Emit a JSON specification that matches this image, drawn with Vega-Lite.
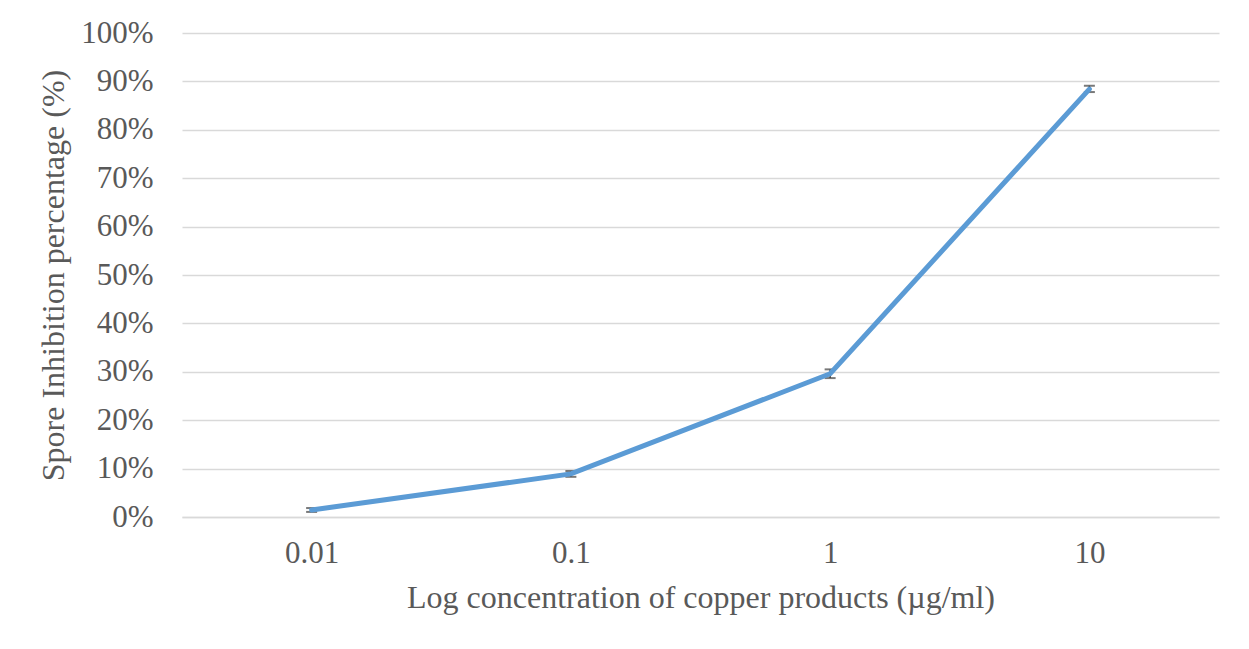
{
  "$schema": "https://vega.github.io/schema/vega-lite/v6.json",
  "autosize": {"type": "none"},
  "width": 1037,
  "height": 484,
  "padding": {"left": 182, "top": 33, "right": 30, "bottom": 132},
  "background": "white",
  "data": {
    "values": [
      {"conc": "0.01", "value": 0.0145, "lo": 0.0105, "hi": 0.0185},
      {"conc": "0.1", "value": 0.089, "lo": 0.083, "hi": 0.095},
      {"conc": "1", "value": 0.296, "lo": 0.287, "hi": 0.305},
      {"conc": "10", "value": 0.884, "lo": 0.878, "hi": 0.891}
    ]
  },
  "encoding": {
    "x": {
      "field": "conc",
      "type": "ordinal",
      "sort": null,
      "scale": {"type": "point", "padding": 0.5},
      "axis": {
        "title": "Log concentration of copper products (µg/ml)",
        "labelAngle": 0,
        "ticks": false,
        "tickSize": 0,
        "domain": true,
        "domainColor": "#d9d9d9",
        "domainWidth": 1.5,
        "labelPadding": 21,
        "titlePadding": 14,
        "grid": false
      }
    }
  },
  "layer": [
    {
      "mark": {"type": "rule", "color": "#404040", "strokeWidth": 1.5},
      "encoding": {
        "y": {"field": "lo", "type": "quantitative"},
        "y2": {"field": "hi"}
      }
    },
    {
      "mark": {"type": "tick", "color": "#404040", "thickness": 2, "size": 11, "orient": "horizontal"},
      "encoding": {"y": {"field": "lo", "type": "quantitative"}}
    },
    {
      "mark": {"type": "tick", "color": "#404040", "thickness": 2, "size": 11, "orient": "horizontal"},
      "encoding": {"y": {"field": "hi", "type": "quantitative"}}
    },
    {
      "mark": {"type": "line", "color": "#5B9BD5", "strokeWidth": 5, "strokeCap": "round"},
      "encoding": {
        "y": {
          "field": "value",
          "type": "quantitative",
          "scale": {"domain": [0, 1], "nice": false},
          "axis": {
            "title": "Spore Inhibition percentage (%)",
            "format": ".0%",
            "values": [0, 0.1, 0.2, 0.3, 0.4, 0.5, 0.6, 0.7, 0.8, 0.9, 1],
            "ticks": false,
            "tickSize": 0,
            "domain": false,
            "grid": true,
            "gridColor": "#d9d9d9",
            "gridWidth": 1.5,
            "labelPadding": 29,
            "titlePadding": 10
          }
        }
      }
    }
  ],
  "config": {
    "font": "Liberation Serif",
    "view": {"stroke": null},
    "axis": {
      "labelFont": "Liberation Serif",
      "titleFont": "Liberation Serif",
      "labelFontSize": 31,
      "titleFontSize": 32,
      "labelColor": "#595959",
      "titleColor": "#595959",
      "titleFontWeight": "normal"
    }
  }
}
